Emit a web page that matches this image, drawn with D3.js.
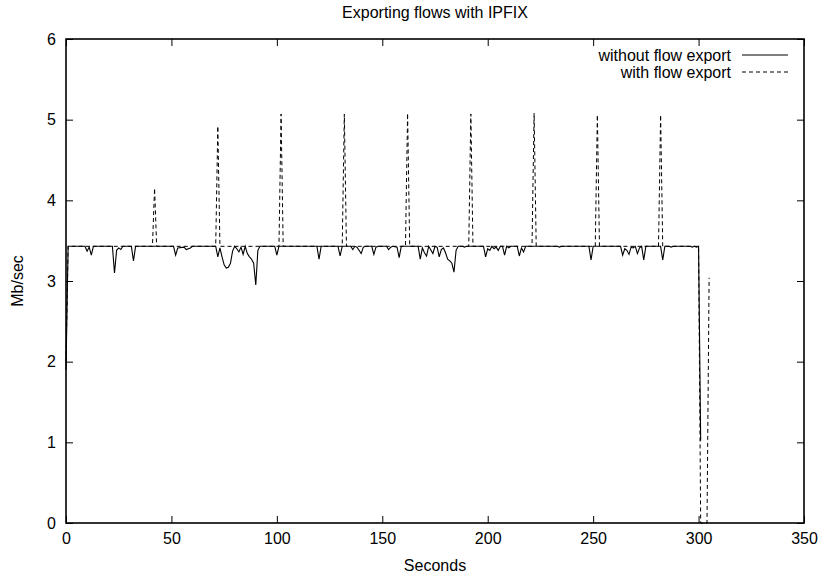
<!DOCTYPE html>
<html><head><meta charset="utf-8">
<script src="https://cdn.jsdelivr.net/npm/d3@7"></script>
<style>
html,body{margin:0;padding:0;background:#fff;}
text{font-family:"Liberation Sans Narrow","Arial Narrow","Liberation Sans",Arial,sans-serif;}
</style></head>
<body>
<svg id="chart" width="824" height="576"></svg>
<script>
const title = "Exporting flows with IPFIX";
const xLabel = "Seconds";
const yLabel = "Mb/sec";
const seriesNames = ["without flow export", "with flow export"];
const xTicks = [0, 50, 100, 150, 200, 250, 300, 350];
const yTicks = [0, 1, 2, 3, 4, 5, 6];

// without flow export (time in s, throughput in Mb/sec)
const withoutT = [0,1,9,10,11,12,13,22,23,24,25,26,27,31,32,33,51,52,53,56,57,59,60,
  71,72,73,74,75,76,77,78,79,80,81,82,83,84,85,86,87,88,89,90,91,92,
  99,100,101,119,120,121,129,130,131,135,136,137,138,140,141,142,145,146,147,148,152,153,154,155,157,158,159,
  167,168,169,170,171,172,174,175,176,177,178,179,180,181,182,183,184,185,186,188,189,190,
  198,199,200,201,202,203,204,205,206,207,208,209,210,211,214,215,216,217,218,233,234,235,
  248,249,250,263,264,265,266,267,268,269,270,271,272,273,274,275,282,283,284,286,287,288,296,297,298,299,300,301];
const withoutV = [1.90,3.43,3.43,3.37,3.42,3.32,3.43,3.43,3.10,3.38,3.41,3.39,3.43,3.43,3.25,3.43,3.43,3.32,3.41,3.42,3.39,3.41,3.43,
  3.43,3.30,3.41,3.30,3.20,3.16,3.17,3.22,3.37,3.43,3.40,3.36,3.42,3.33,3.43,3.34,3.30,3.27,3.22,2.95,3.38,3.43,
  3.43,3.32,3.43,3.43,3.27,3.43,3.43,3.31,3.43,3.43,3.39,3.43,3.42,3.34,3.42,3.43,3.43,3.33,3.42,3.43,3.43,3.39,3.42,3.43,3.42,3.29,3.43,
  3.43,3.27,3.41,3.35,3.31,3.43,3.34,3.43,3.42,3.30,3.39,3.41,3.35,3.27,3.25,3.22,3.11,3.38,3.43,3.43,3.42,3.43,
  3.43,3.30,3.40,3.38,3.43,3.40,3.42,3.38,3.43,3.43,3.32,3.43,3.41,3.43,3.43,3.31,3.41,3.36,3.43,3.43,3.42,3.43,
  3.43,3.26,3.43,3.43,3.32,3.40,3.38,3.33,3.42,3.41,3.43,3.34,3.41,3.43,3.26,3.43,3.43,3.26,3.43,3.43,3.42,3.43,3.43,3.42,3.43,3.42,3.43,1.02];

// with flow export
const withT = [0,1,41,42,43,71,72,73,101,102,103,131,132,133,161,162,163,191,192,193,221,222,223,251,252,253,281,282,283,300,301,302,303,304,305];
const withV = [2.00,3.43,3.43,4.15,3.43,3.43,4.92,3.43,3.43,5.07,3.43,3.43,5.07,3.43,3.43,5.08,3.43,3.43,5.07,3.43,3.43,5.08,3.43,3.43,5.06,3.43,3.43,5.06,3.43,3.43,0.00,0.00,0.00,0.00,3.04];

const svg = d3.select("#chart");
const L = 66, R = 804, T = 39, B = 523;
const x = d3.scaleLinear().domain([0, 350]).range([L, R]);
const y = d3.scaleLinear().domain([0, 6]).range([B, T]);
const fs = 16;
const fmt = d3.format("d");

const tick = 7;
// bottom axis
const gb = svg.append("g").attr("transform", `translate(0,${B})`)
  .call(d3.axisBottom(x).tickValues(xTicks).tickFormat(fmt).tickSizeInner(-tick).tickSizeOuter(0).tickPadding(10));
// top mirror ticks
const gt = svg.append("g").attr("transform", `translate(0,${T})`)
  .call(d3.axisTop(x).tickValues(xTicks).tickSizeInner(-tick).tickSizeOuter(0).tickFormat(""));
// left axis
const gl = svg.append("g").attr("transform", `translate(${L},0)`)
  .call(d3.axisLeft(y).tickValues(yTicks).tickFormat(fmt).tickSizeInner(-tick).tickSizeOuter(0).tickPadding(10));
// right mirror
const gr = svg.append("g").attr("transform", `translate(${R},0)`)
  .call(d3.axisRight(y).tickValues(yTicks).tickSizeInner(-tick).tickSizeOuter(0).tickFormat(""));

[gb, gt, gl, gr].forEach(g => {
  g.select(".domain").remove();
  g.selectAll("line").attr("stroke", "#000").attr("stroke-width", 1);
  g.selectAll("text").attr("font-size", fs).attr("fill", "#000")
   .style("font-family", '"Liberation Sans Narrow","Arial Narrow","Liberation Sans",Arial,sans-serif');
});

const line = d3.line().x(d => x(d[0])).y(d => y(d[1]));
const dataWithout = withoutT.map((t, i) => [t, withoutV[i]]);
const dataWith = withT.map((t, i) => [t, withV[i]]);

svg.append("path").datum(dataWith).attr("d", line)
  .attr("fill", "none").attr("stroke", "#000").attr("stroke-width", 1).attr("stroke-dasharray", "4,3");
svg.append("path").datum(dataWithout).attr("d", line)
  .attr("fill", "none").attr("stroke", "#000").attr("stroke-width", 1.1);

// border
svg.append("rect").attr("x", L).attr("y", T).attr("width", R - L).attr("height", B - T)
  .attr("fill", "none").attr("stroke", "#000").attr("stroke-width", 1.6);

// title & labels
svg.append("text").attr("x", (L + R) / 2).attr("y", 18).attr("text-anchor", "middle")
  .attr("font-size", fs).text(title);
svg.append("text").attr("x", (L + R) / 2).attr("y", 571).attr("text-anchor", "middle")
  .attr("font-size", fs).text(xLabel);
svg.append("text").attr("transform", `translate(23,${(T + B) / 2}) rotate(-90)`)
  .attr("text-anchor", "middle").attr("font-size", fs).text(yLabel);

// legend
const leg = svg.append("g");
seriesNames.forEach((name, i) => {
  const ly = 55 + i * 17;
  leg.append("text").attr("x", 731).attr("y", ly + 5.5).attr("text-anchor", "end")
    .attr("font-size", fs).text(name);
  leg.append("line").attr("x1", 742).attr("x2", 788).attr("y1", ly).attr("y2", ly)
    .attr("stroke", "#000").attr("stroke-width", 1)
    .attr("stroke-dasharray", i === 1 ? "4,3" : null);
});
</script>
</body></html>
